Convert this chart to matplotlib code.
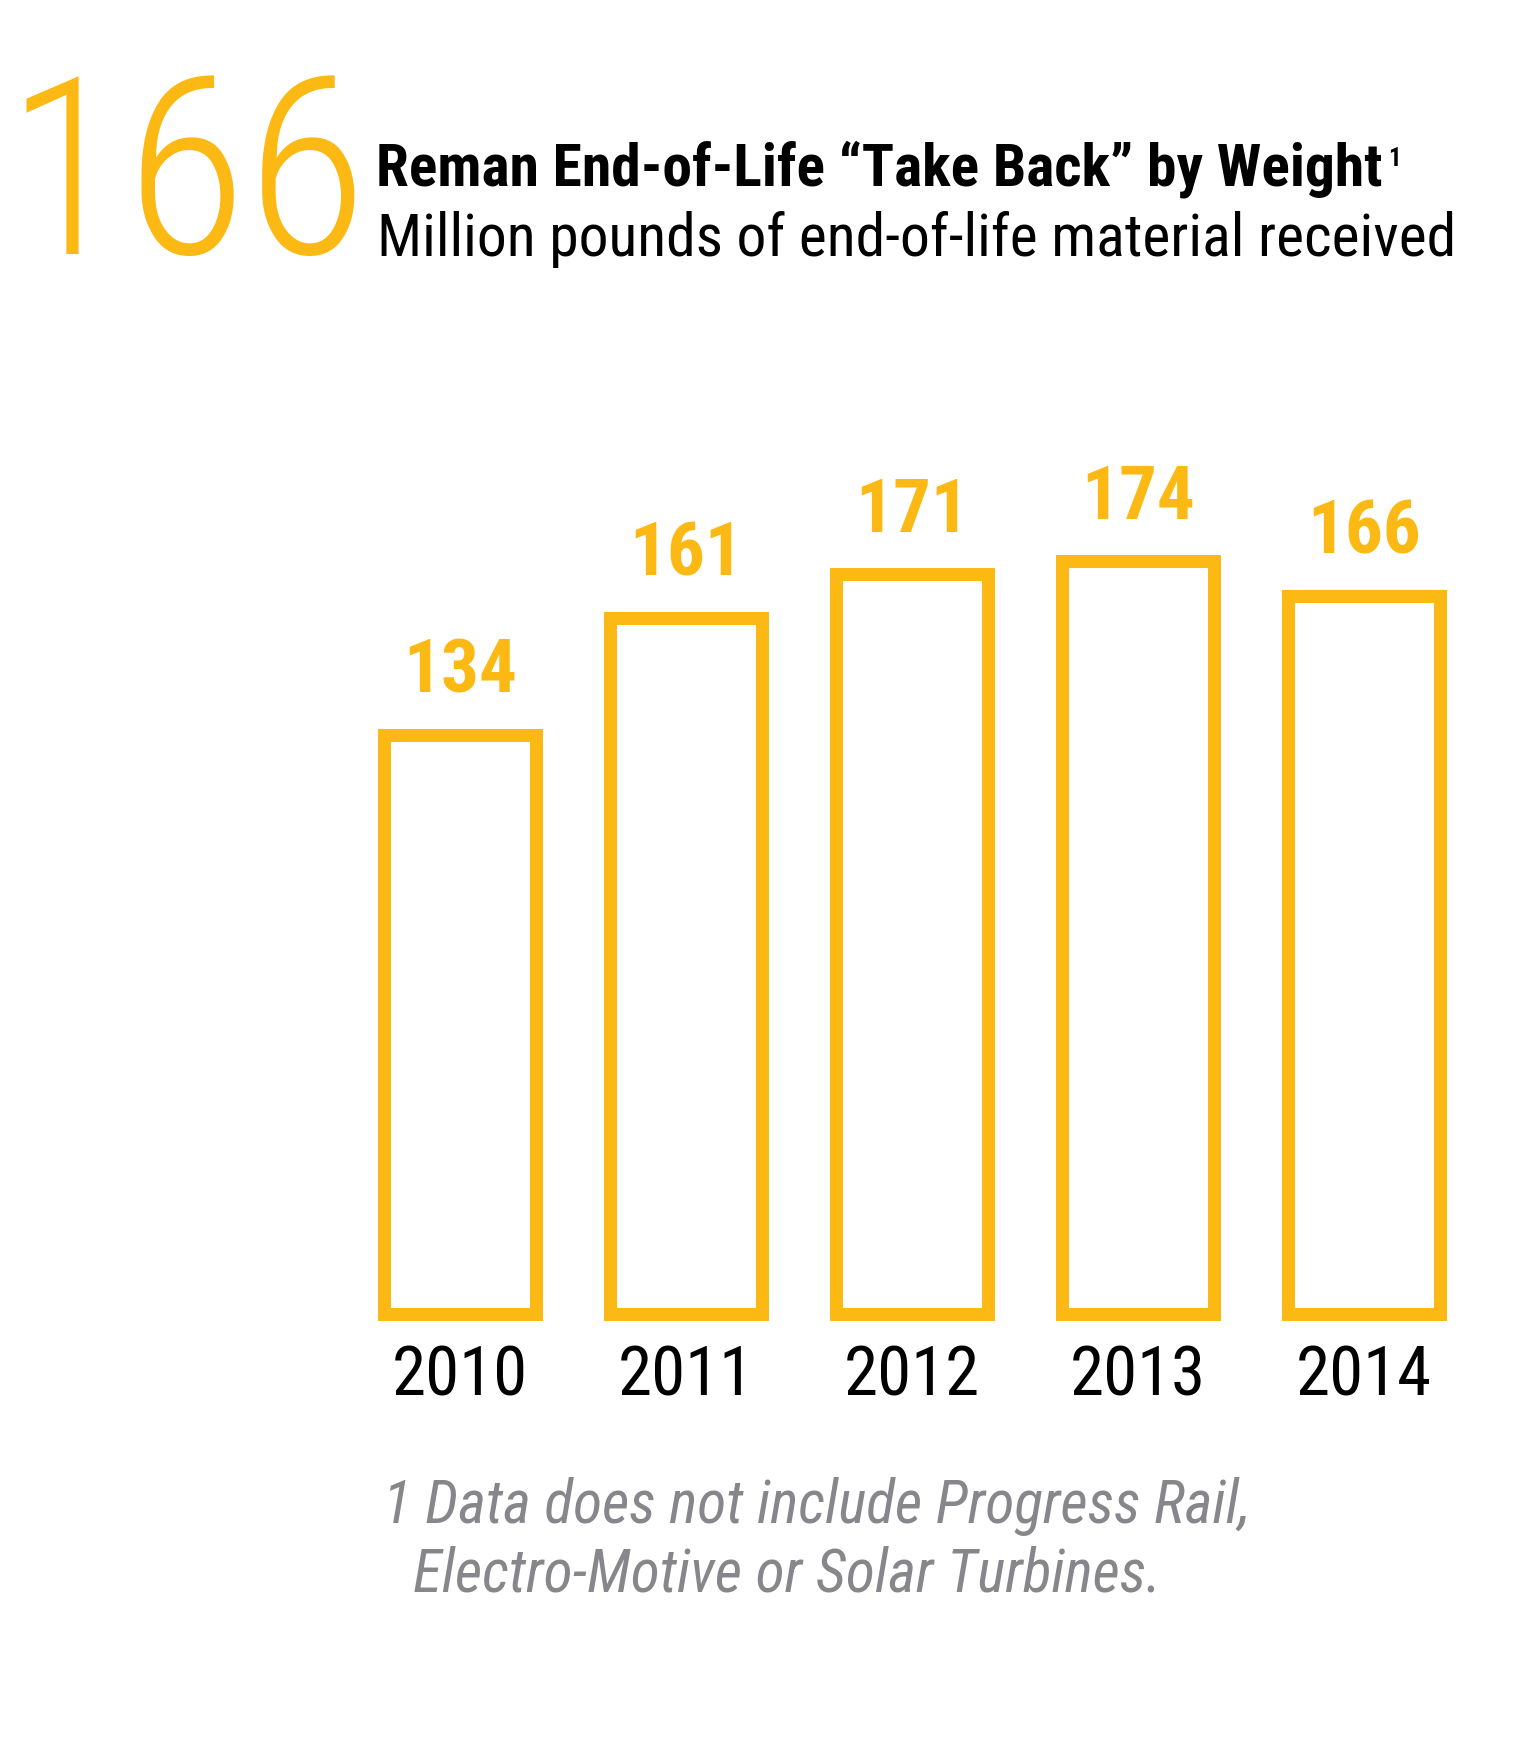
import matplotlib.pyplot as plt
from matplotlib import font_manager

# data
years = ['2010', '2011', '2012', '2013', '2014']
take_back = [134, 161, 171, 174, 166]

title = 'Reman End-of-Life \u201cTake Back\u201d by Weight'
subtitle = 'Million pounds of end-of-life material received'
footnote = ['1 Data does not include Progress Rail,', 'Electro-Motive or Solar Turbines.']

yellow = '#FCB913'
grey = '#87878B'

# look for a narrow family, the original uses a condensed face
entries = font_manager.fontManager.ttflist
names = sorted({f.name for f in entries})
fam = None
for n in ['Liberation Sans Narrow', 'Roboto Condensed', 'Noto Sans Condensed',
          'Open Sans Condensed', 'DejaVu Sans Condensed', 'Noto Sans SemiCondensed']:
    if n in names:
        fam = n
        break
if fam is None:
    narrow = [n for n in names if 'Condensed' in n or 'Narrow' in n]
    fam = narrow[0] if narrow else ('Liberation Sans' if 'Liberation Sans' in names else 'DejaVu Sans')
plt.rcParams['font.family'] = [fam, 'DejaVu Sans']

W, H = 1536, 1737
fig = plt.figure(figsize=(W / 100, H / 100), dpi=100)
renderer = fig.canvas.get_renderer()


def px(x, y):
    # pixel position (from top-left) -> figure fraction
    return x / W, 1 - y / H


def width(txt):
    return txt.get_window_extent(renderer).width


def fit(txt, width_px, grow=False):
    # scale a text to the width it has in the reference
    w = width(txt)
    if w > width_px or grow:
        txt.set_fontsize(txt.get_fontsize() * width_px / w)


# big headline number = latest value
big = fig.text(*px(6, 254), str(take_back[-1]), fontsize=204, color=yellow,
               fontweight='light', va='baseline', ha='left')
fit(big, 362)

t = fig.text(*px(376, 186), title, fontsize=42, fontweight='bold',
             color='black', va='baseline', ha='left')
fit(t, 1006, grow=True)
st = fig.text(*px(377, 256), subtitle, fontsize=42, color='black',
              va='baseline', ha='left')
fit(st, 1082, grow=True)

# superscript right after the title
bb = t.get_window_extent(renderer)
fig.text((bb.x1 + 6) / W, 1 - 166 / H, '1', fontsize=18, fontweight='bold',
         color='black', va='baseline', ha='left')

# bars
ax = fig.add_axes([347.25 / W, 422.8 / H, 1129.5 / W, 865.2 / H])
x = list(range(len(years)))
bars = ax.bar(x, take_back, width=0.673, fill=False, edgecolor=yellow,
              linewidth=9.36, clip_on=False)
for b in bars:
    b.set_joinstyle('miter')

vals, yrs = [], []
for xi, v in zip(x, take_back):
    vals.append(ax.annotate(str(v), xy=(xi, v), xytext=(0, 30.6), textcoords='offset points',
                            ha='center', va='baseline', fontsize=54, fontweight='bold',
                            color=yellow))
    yrs.append(ax.annotate(years[xi], xy=(xi, 0), xytext=(0, -58.2), textcoords='offset points',
                           ha='center', va='baseline', fontsize=55, color='black'))

# one size per label row
s = min(54 * 100 / width(a) for a in vals)
for a in vals:
    a.set_fontsize(min(54, s))
s = min(55 * 136 / width(a) for a in yrs)
for a in yrs:
    a.set_fontsize(min(55, s))

ax.set_xlim(-0.5, len(years) - 0.5)
ax.set_ylim(0, 200)
ax.axis('off')

f1 = fig.text(*px(383, 1523), footnote[0], fontsize=42, style='italic',
              color=grey, va='baseline', ha='left')
fit(f1, 868, grow=True)
f2 = fig.text(*px(413, 1592), footnote[1], fontsize=42, style='italic',
              color=grey, va='baseline', ha='left')
f2.set_fontsize(f1.get_fontsize())

fig.savefig('out.png', dpi=100, facecolor='white')
